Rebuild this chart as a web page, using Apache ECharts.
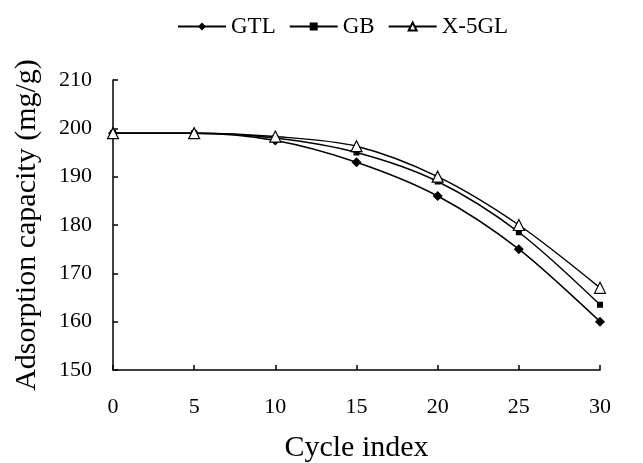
<!DOCTYPE html>
<html>
<head>
<meta charset="utf-8">
<script src="https://cdn.jsdelivr.net/npm/echarts@6/dist/echarts.min.js"></script>
<style>
	html, body { margin: 0; padding: 0; background: #fff; }
	#chart { width: 643px; height: 463px; }
</style>
</head>
<body>
<div id="chart"></div>
<script>
	// 横轴：循环次数
	var cycles = [0, 5, 10, 15, 20, 25, 30];
	// 各材料吸附量 (mg/g)
	var gtl = [199, 199, 197.5, 193, 186, 175, 160];
	var gb = [199, 199, 198, 195, 189, 178.5, 163.5];
	var x5gl = [199, 199, 198.3, 196.3, 190, 180, 167];

	var font = 'Liberation Serif';

	function pairs(vals) {
		var out = [];
		for(var i = 0; i < cycles.length; i++) {
			out.push([cycles[i], vals[i]]);
		}
		return out;
	}

	function line_series(name, vals, symbol, size, fill) {
		return {
			name: name,
			type: 'line',
			data: pairs(vals),
			smooth: 0.3,
			symbol: symbol,
			symbolSize: size,
			showSymbol: true,
			lineStyle: { color: '#000', width: 1.5 },
			itemStyle: { color: fill, borderColor: '#000', borderWidth: fill == '#fff' ? 1.2 : 0 },
			emphasis: { disabled: true }
		};
	}

	var myChart = echarts.init(document.getElementById('chart'));

	var option = {
		backgroundColor: '#fff',
		animation: false,
		textStyle: { fontFamily: font, color: '#000' },
		legend: {
			top: 10,
			left: 172,
			itemWidth: 48,
			itemHeight: 10,
			itemGap: 13,
			textStyle: { fontFamily: font, fontSize: 23, color: '#000' },
			data: ['GTL', 'GB', 'X-5GL']
		},
		grid: { left: 113, right: 43, top: 80, bottom: 93, outerBoundsMode: 'none' },
		xAxis: {
			type: 'value',
			min: 0,
			max: 30,
			interval: 5,
			name: 'Cycle index',
			nameLocation: 'middle',
			nameGap: 63,
			nameTextStyle: { fontFamily: font, fontSize: 30, color: '#000' },
			axisLine: { lineStyle: { color: '#000', width: 1.5 } },
			axisTick: { inside: true, length: 5, lineStyle: { color: '#000', width: 1.5 } },
			axisLabel: { fontFamily: font, fontSize: 22, color: '#000', margin: 26 },
			splitLine: { show: false }
		},
		yAxis: {
			type: 'value',
			min: 150,
			max: 210,
			interval: 10,
			name: 'Adsorption capacity (mg/g)',
			nameLocation: 'middle',
			nameGap: 71,
			nameTextStyle: { fontFamily: font, fontSize: 30, color: '#000' },
			axisLine: { show: true, lineStyle: { color: '#000', width: 1.5 } },
			axisTick: { show: true, inside: true, length: 5, lineStyle: { color: '#000', width: 1.5 } },
			axisLabel: { fontFamily: font, fontSize: 22, color: '#000', margin: 21 },
			splitLine: { show: false }
		},
		series: [
			line_series('GTL', gtl, 'diamond', 10, '#000'),
			line_series('GB', gb, 'rect', 6, '#000'),
			line_series('X-5GL', x5gl, 'triangle', 11, '#fff')
		]
	};
	myChart.setOption(option);
</script>
</body>
</html>
